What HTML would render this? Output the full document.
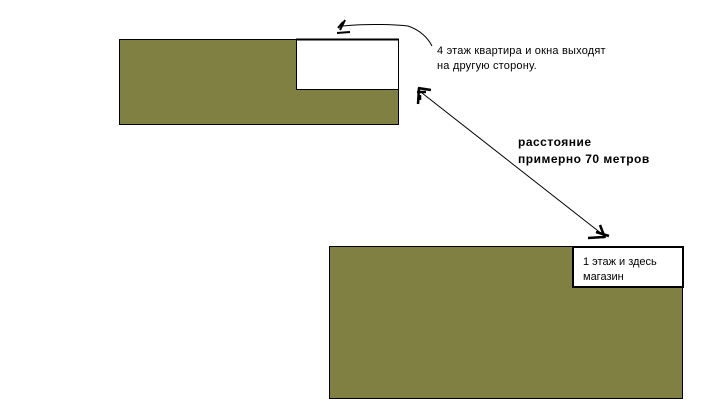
<!DOCTYPE html>
<html><head><meta charset="utf-8"><style>
body{margin:0;width:721px;height:416px;background:#fff;overflow:hidden;position:relative;font-family:"Liberation Sans",sans-serif}
.t{position:absolute;font-size:11px;line-height:15px;color:#000;white-space:nowrap}
</style></head><body>
<svg width="721" height="416" style="position:absolute;left:0;top:0">
<rect x="119.5" y="39.5" width="279" height="85" fill="#808042" stroke="#000" stroke-width="1"/>
<rect x="296.5" y="39.5" width="102" height="50" fill="#fff" stroke="#000" stroke-width="1"/>
<line x1="296" y1="39.5" x2="399" y2="39.5" stroke="#000" stroke-width="2"/>
<rect x="329.5" y="246.5" width="353" height="152" fill="#808042" stroke="#000" stroke-width="1"/>
<rect x="573" y="247" width="110" height="40" fill="#fff" stroke="#000" stroke-width="2"/>
<path d="M343 26 C360 24 390 24 408 26 C420 30 428 38 432 46" fill="none" stroke="#000" stroke-width="1"/>
<path d="M337 33 L350 32 M340 30 L345 20 M338 28 L343 22" stroke="#000" stroke-width="2"/>
<line x1="422" y1="93" x2="602" y2="234" stroke="#000" stroke-width="1"/>
<path d="M418 88 L431 90 M419 88 L418 104 M417 92 L426 92 M420 95 L420 100" stroke="#000" stroke-width="2.5"/>
<path d="M596 232 L609 236 M600 225 L605 238 M588 238 L604 237" stroke="#000" stroke-width="2.5"/>
</svg>
<div class="t" style="left:437px;top:44px;letter-spacing:0.2px">4 этаж квартира и окна выходят<br>на другую сторону.</div>
<div class="t" style="left:518px;top:134px;font-size:12px;font-weight:bold;line-height:17px;letter-spacing:0.5px">расстояние<br>примерно 70 метров</div>
<div class="t" style="left:583px;top:255px">1 этаж и здесь<br>магазин</div>
</body></html>
